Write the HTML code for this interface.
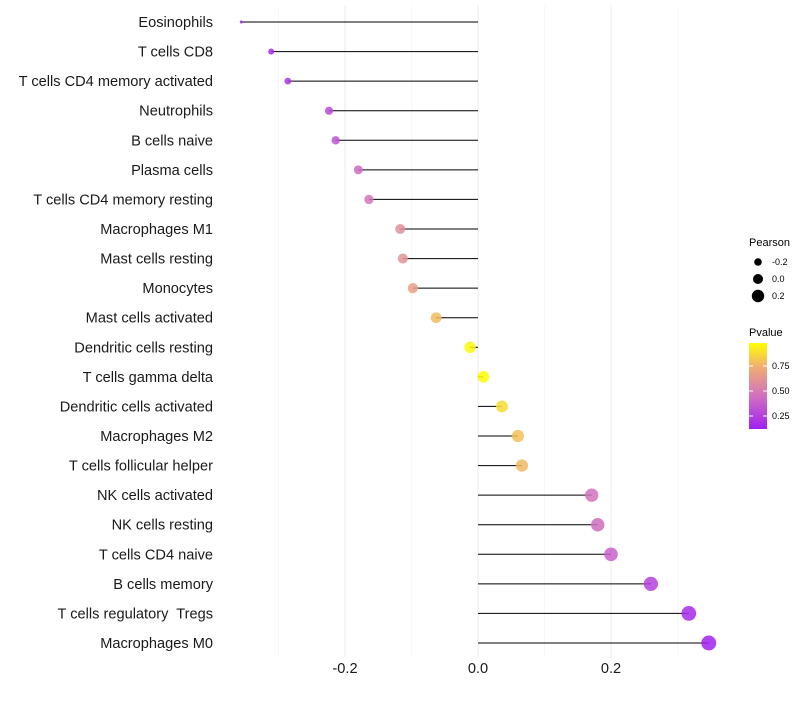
<!DOCTYPE html>
<html><head><meta charset="utf-8"><style>
body{margin:0;background:#fff;}
text{font-family:"Liberation Sans",sans-serif;white-space:pre;}
</style></head><body>
<svg id="chart" width="800" height="700" xmlns="http://www.w3.org/2000/svg">
<defs><linearGradient id="pg" x1="0" y1="1" x2="0" y2="0">
<stop offset="0" stop-color="#A020F0"/><stop offset="0.38" stop-color="#D070C0"/><stop offset="0.73" stop-color="#F0B070"/><stop offset="1" stop-color="#FFFF00"/>
</linearGradient></defs>
<g id="grid"></g><g id="marks"></g><g id="ylabels"></g><g id="xticks"></g>
<g>
<text x="749" y="246" font-size="11">Pearson</text>
<circle cx="758" cy="262" r="3.8" fill="#000"/><text x="772" y="265" font-size="9">-0.2</text>
<circle cx="758" cy="279" r="5" fill="#000"/><text x="772" y="282" font-size="9">0.0</text>
<circle cx="758" cy="296" r="6.2" fill="#000"/><text x="772" y="299" font-size="9">0.2</text>
<text x="749" y="336" font-size="11">Pvalue</text>
<rect x="749" y="343" width="18" height="86" fill="url(#pg)"/>
<line x1="749" y1="366" x2="753" y2="366" stroke="#fff"/><line x1="763" y1="366" x2="767" y2="366" stroke="#fff"/>
<line x1="749" y1="391" x2="753" y2="391" stroke="#fff"/><line x1="763" y1="391" x2="767" y2="391" stroke="#fff"/>
<line x1="749" y1="416" x2="753" y2="416" stroke="#fff"/><line x1="763" y1="416" x2="767" y2="416" stroke="#fff"/>
<text x="772" y="369" font-size="9">0.75</text><text x="772" y="394" font-size="9">0.50</text><text x="772" y="419" font-size="9">0.25</text>
</g>
</svg>
<script>
const categories=["Eosinophils","T cells CD8","T cells CD4 memory activated","Neutrophils","B cells naive","Plasma cells","T cells CD4 memory resting","Macrophages M1","Mast cells resting","Monocytes","Mast cells activated","Dendritic cells resting","T cells gamma delta","Dendritic cells activated","Macrophages M2","T cells follicular helper","NK cells activated","NK cells resting","T cells CD4 naive","B cells memory","T cells regulatory  Tregs","Macrophages M0"];
const pearson=[-0.356,-0.311,-0.286,-0.224,-0.214,-0.180,-0.164,-0.117,-0.113,-0.098,-0.063,-0.012,0.008,0.036,0.060,0.066,0.171,0.180,0.200,0.260,0.317,0.347];
const pvalues=[0.13,0.17,0.20,0.30,0.33,0.43,0.47,0.60,0.62,0.67,0.78,0.96,0.97,0.88,0.80,0.78,0.46,0.44,0.39,0.26,0.16,0.13];
const xTicks=[-0.2,0.0,0.2];
const xTickLabels=["-0.2","0.0","0.2"];
const grid=[-0.3,-0.2,-0.1,0,0.1,0.2,0.3];
const NS="http://www.w3.org/2000/svg";
const xs=v=>478+v*665;
const ys=i=>22+i*(621/21);
const rs=v=>1.5+6*Math.sqrt(Math.max(0,(v+0.356)/0.703));
function lerp(a,b,t){return a.map((x,i)=>Math.round(x+(b[i]-x)*t));}
function col(p){const st=[[0.12,[160,32,240]],[0.45,[208,112,192]],[0.75,[240,176,112]],[0.98,[255,255,0]]];
 if(p<=st[0][0])return st[0][1];for(let i=0;i<st.length-1;i++){if(p<=st[i+1][0])return lerp(st[i][1],st[i+1][1],(p-st[i][0])/(st[i+1][0]-st[i][0]));}return st[3][1];}
function mk(t,a,parent){const e=document.createElementNS(NS,t);for(const k in a)e.setAttribute(k,a[k]);document.getElementById(parent).appendChild(e);return e;}
grid.forEach(g=>{const major=Math.round(g*10)%2===0;const l=mk('line',{x1:xs(g),x2:xs(g),y1:5,y2:658,stroke:major?'#ebebeb':'#f4f4f4','stroke-width':major?1:0.6},'grid');

});
categories.forEach((c,i)=>{const y=ys(i);
const s=mk('line',{x1:xs(0),x2:xs(pearson[i]),y1:y,y2:y,stroke:'#000','stroke-width':1},'marks');


const cc=col(pvalues[i]);
const p=mk('circle',{cx:xs(pearson[i]),cy:y,r:rs(pearson[i]),fill:`rgb(${cc})`,'fill-opacity':0.85},'marks');


const t=mk('text',{x:213,y:y+5,'font-size':14.6,'text-anchor':'end',fill:'#1a1a1a'},'ylabels');t.textContent=c;

});
xTicks.forEach((v,i)=>{const t=mk('text',{x:xs(v),y:673,'font-size':14.6,'text-anchor':'middle',fill:'#1a1a1a'},'xticks');t.textContent=xTickLabels[i];

});
</script>
</body></html>
